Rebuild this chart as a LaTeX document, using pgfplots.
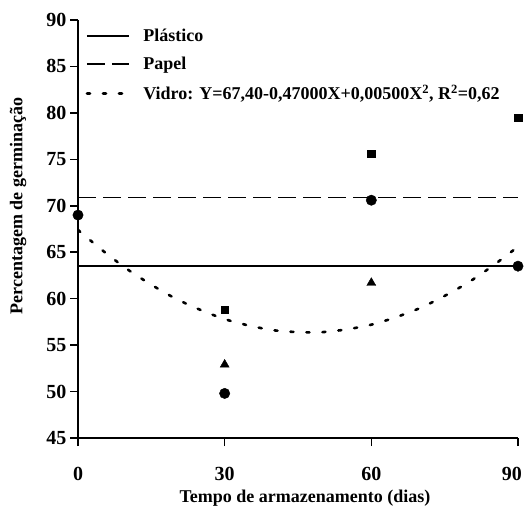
\documentclass[border=0pt]{standalone}
\usepackage{fontspec}
\setmainfont{Liberation Serif}
\usepackage{pgfplots}
\pgfplotsset{compat=1.18}
\begin{document}
\begin{tikzpicture}
\path[use as bounding box] (-78pt,-76pt) rectangle (446pt,438pt);
\begin{axis}[
  at={(0,0)}, anchor=south west,
  scale only axis, width=440pt, height=418pt,
  xmin=0, xmax=90, ymin=45, ymax=90,
  axis x line=bottom, axis y line=left,
  axis line style={line width=2.5pt, -},
  xtick={0,30,60,90}, ytick={45,50,...,90},
  xticklabels={0,30,60,{\hspace*{-12pt}90}},
  tick align=outside, major tick length=8pt,
  tick style={line width=1.6pt, black},
  /pgf/number format/assume math mode=true,
  ticklabel style={font=\fontsize{20}{22}\selectfont\bfseries},
  yticklabel style={xshift=0pt},
  xticklabel style={yshift=-18pt},
  xlabel={Tempo de armazenamento (dias)},
  ylabel={Percentagem de germinação},
  label style={font=\fontsize{18}{20}\selectfont\bfseries},
  xlabel style={at={(axis description cs:0.516,-0.143)}, anchor=center},
  ylabel style={at={(axis description cs:-0.136,0.555)}, anchor=center},
  clip=false,
  legend style={at={(axis description cs:0.017,0.983)}, anchor=north west,
    draw=none, fill=none, font=\fontsize{18}{20}\selectfont\bfseries,
    row sep=10pt, inner sep=0pt,
    /tikz/every odd column/.append style={column sep=11pt}},
  legend cell align=left,
  legend image code/.code={\draw[#1] (0pt,0pt) -- (42pt,0pt);},
]
\addplot[black, line width=1.7pt] coordinates {(0,63.5) (90,63.5)};
\addlegendentry{Plástico}
\addplot[black, line width=1.7pt, dash pattern=on 18pt off 7pt] coordinates {(0,70.9) (90,70.9)};
\addlegendentry{Papel}
\addplot[black, line width=2.6pt, line cap=round, dash pattern=on 3pt off 13pt, smooth] coordinates {
(0,67.4) (5,65.2) (10,63.2) (15,61.5) (20,60.0) (25,58.8) (30,57.8) (35,57.1) (40,56.6)
(45,56.4) (50,56.4) (55,56.7) (60,57.2) (65,58.0) (70,59.0) (75,60.3) (80,61.8) (85,63.6) (90,65.6)};
\addlegendentry{Vidro: Y=67,40-0,47000X+0,00500X\textsuperscript{2}, R\textsuperscript{2}=0,62}
\addplot[only marks, mark=*, mark size=5.2pt, black, forget plot] coordinates {(0,69) (30,49.8) (60,70.6) (90,63.5)};
\addplot[only marks, mark=square*, mark size=3.8pt, black, forget plot] coordinates {(30,58.8) (60,75.6) (90,79.5)};
\addplot[only marks, mark=triangle*, mark size=5.2pt, black, forget plot] coordinates {(30,52.9) (60,61.7)};
\end{axis}
\end{tikzpicture}
\end{document}
